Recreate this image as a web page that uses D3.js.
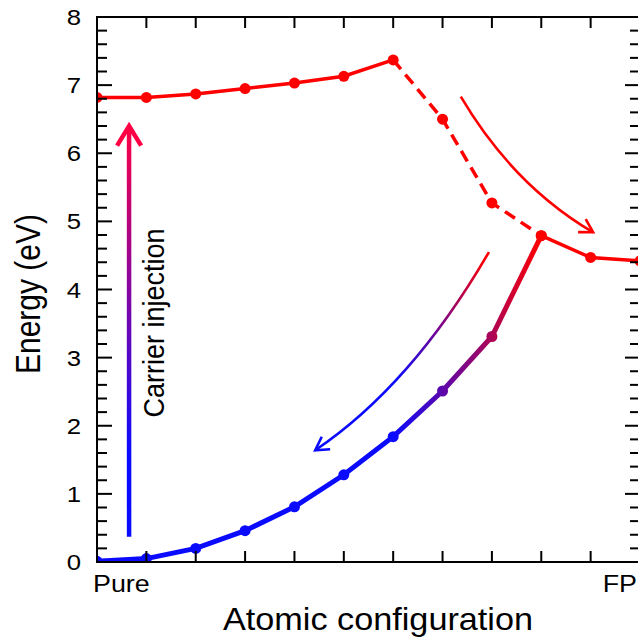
<!DOCTYPE html>
<html>
<head>
<meta charset="utf-8">
<script src="https://cdn.jsdelivr.net/npm/d3@7"></script>
<style>
    body { margin: 0; background: #fff; }
    text { font-family: "Liberation Sans", Arial, sans-serif; fill: #000; }
</style>
</head>
<body>
<script>
// configurations along x (0 = Pure ... 11 = FP)
const configs = d3.range(12);
const excitedEnergy = [6.82, 6.82, 6.87, 6.95, 7.03, 7.13, 7.37, 6.50, 5.27, 4.79, 4.47, 4.42];
const groundEnergy = [0.01, 0.05, 0.20, 0.46, 0.81, 1.28, 1.84, 2.51, 3.31, 4.79];
const dashedRange = [6, 9];
const xTickLabels = [{ i: 0, label: "Pure" }, { i: 11, label: "FP" }];
const yTicks = [0, 1, 2, 3, 4, 5, 6, 7, 8];

// annotation arrows, in data units (config index, eV)
const injectionArrow = { x: 0.65, from: 0.37, to: 6.4 };
const relaxArrow = [[7.37, 6.83], [8.43, 5.53], [10.05, 4.84]];
const decayArrow = [[7.94, 4.55], [6.38, 2.6], [4.42, 1.64]];

const config = {
    width: 638,
    height: 640,
    left: 97,
    right: 640,
    top: 17,
    bottom: 562,
    red: "#ff0000",
    blue: "#0a0aff",
    pink: "#ff0044",
    stretch: 1.12
};

const x = d3.scaleLinear().domain([0, 11]).range([config.left, config.right]);
const y = d3.scaleLinear().domain([0, 8]).range([config.bottom, config.top]);

const svg = d3.select("body").append("svg")
    .attr("width", config.width)
    .attr("height", config.height);

const defs = svg.append("defs");
defs.append("clipPath").attr("id", "plot")
    .append("rect")
    .attr("x", config.left).attr("y", config.top)
    .attr("width", config.right - config.left)
    .attr("height", config.bottom - config.top);

function gradient(id, x1, y1, x2, y2, stops) {
    const g = defs.append("linearGradient").attr("id", id)
        .attr("gradientUnits", "userSpaceOnUse")
        .attr("x1", x1).attr("y1", y1).attr("x2", x2).attr("y2", y2);
    stops.forEach(s => g.append("stop").attr("offset", s[0]).attr("stop-color", s[1]));
}

gradient("groundGrad", x(6), 0, x(9), 0, [[0, config.blue], [1, config.red]]);
gradient("injGrad", 0, y(injectionArrow.from), 0, y(injectionArrow.to),
    [[0, config.blue], [0.2, config.blue], [1, config.pink]]);
gradient("decayGrad", x(decayArrow[0][0]), y(decayArrow[0][1]), x(decayArrow[2][0]), y(decayArrow[2][1]),
    [[0.02, config.red], [0.6, config.blue], [1, config.blue]]);

// ---- data lines ----
const plot = svg.append("g").attr("clip-path", "url(#plot)");
const line = d3.line().x(d => x(d.i)).y(d => y(d.e));

const excited = configs.map(i => ({ i, e: excitedEnergy[i] }));
const ground = groundEnergy.map((e, i) => ({ i, e }));

plot.append("path")
    .attr("d", line(excited.slice(0, dashedRange[0] + 1)))
    .style("fill", "none").style("stroke", config.red).style("stroke-width", 3.5);
plot.append("path")
    .attr("d", line(excited.slice(dashedRange[0], dashedRange[1] + 1)))
    .style("fill", "none").style("stroke", config.red).style("stroke-width", 3.5)
    .style("stroke-dasharray", "12,7");
plot.append("path")
    .attr("d", line(excited.slice(dashedRange[1])))
    .style("fill", "none").style("stroke", config.red).style("stroke-width", 3.5);

plot.append("path")
    .attr("d", line(ground))
    .style("fill", "none").style("stroke", "url(#groundGrad)").style("stroke-width", 5);

plot.selectAll(".ground").data(ground).enter().append("circle")
    .attr("cx", d => x(d.i)).attr("cy", d => y(d.e)).attr("r", 5.5)
    .style("fill", "url(#groundGrad)");

plot.selectAll(".excited").data(excited).enter().append("circle")
    .attr("cx", d => x(d.i)).attr("cy", d => y(d.e)).attr("r", 5.5)
    .style("fill", config.red);

// ---- arrows ----
function head(g, tip, dir, len, ang, color, w) {
    const back = Math.atan2(-dir[1], -dir[0]);
    const p = [-ang, ang].map(a => [tip[0] + len * Math.cos(back + a), tip[1] + len * Math.sin(back + a)]);
    g.append("path")
        .attr("d", `M${p[0][0]},${p[0][1]}L${tip[0]},${tip[1]}L${p[1][0]},${p[1][1]}`)
        .style("fill", "none").style("stroke", color).style("stroke-width", w)
        .style("stroke-linejoin", "miter");
}

function curveArrow(pts, color, headColor, w) {
    const p = pts.map(d => [x(d[0]), y(d[1])]);
    const g = svg.append("g");
    g.append("path")
        .attr("d", `M${p[0][0]},${p[0][1]}Q${p[1][0]},${p[1][1]} ${p[2][0]},${p[2][1]}`)
        .style("fill", "none").style("stroke", color).style("stroke-width", w);
    head(g, p[2], [p[2][0] - p[1][0], p[2][1] - p[1][1]], 15, Math.PI / 6, headColor, w);
}

curveArrow(relaxArrow, config.red, config.red, 2.6);
curveArrow(decayArrow, "url(#decayGrad)", config.blue, 2.6);

const inj = svg.append("g");
inj.append("line")
    .attr("x1", x(injectionArrow.x)).attr("x2", x(injectionArrow.x) + 0.01)
    .attr("y1", y(injectionArrow.from)).attr("y2", y(injectionArrow.to) + 2)
    .style("stroke", "url(#injGrad)").style("stroke-width", 4.5);
head(inj, [x(injectionArrow.x), y(injectionArrow.to)], [0, -1], 23, 0.55, config.pink, 4.5);

// ---- frame & ticks ----
const frame = svg.append("g").style("stroke", "#000");
frame.append("rect")
    .attr("x", config.left).attr("y", config.top)
    .attr("width", config.right - config.left)
    .attr("height", config.bottom - config.top)
    .style("fill", "none").style("stroke-width", 2);

const minor = d3.range(0, 8.01, 0.2).map(v => +v.toFixed(1));
frame.selectAll(".ytick").data(minor).enter().append("line")
    .attr("x1", config.left).attr("x2", d => config.left + (Number.isInteger(d) ? 15 : 10))
    .attr("y1", d => y(d)).attr("y2", d => y(d))
    .style("stroke-width", 2);
frame.selectAll(".ytickr").data(minor).enter().append("line")
    .attr("x1", config.right).attr("x2", d => config.right - (Number.isInteger(d) ? 15 : 10))
    .attr("y1", d => y(d)).attr("y2", d => y(d))
    .style("stroke-width", 2);
frame.selectAll(".xtick").data(configs.slice(1, 11)).enter().append("line")
    .attr("x1", d => x(d)).attr("x2", d => x(d))
    .attr("y1", config.bottom).attr("y2", config.bottom - 11)
    .style("stroke-width", 2);
frame.selectAll(".xtickt").data(configs.slice(1, 11)).enter().append("line")
    .attr("x1", d => x(d)).attr("x2", d => x(d))
    .attr("y1", config.top).attr("y2", config.top + 11)
    .style("stroke-width", 2);

// ---- text ----
svg.selectAll(".ylab").data(yTicks).enter().append("text")
    .attr("transform", d => `translate(${config.left - 16},${y(d) + 8}) scale(${config.stretch},1)`)
    .attr("text-anchor", "end")
    .style("font-size", "23px")
    .text(d => d);

svg.selectAll(".xlab").data(xTickLabels).enter().append("text")
    .attr("transform", d => `translate(${d.i === 0 ? x(d.i) - 4 : x(d.i) - 3},592) scale(${config.stretch},1)`)
    .attr("text-anchor", d => d.i === 0 ? "start" : "end")
    .style("font-size", "24px")
    .text(d => d.label);

svg.append("text")
    .attr("transform", "translate(378,630) scale(1.07,1)")
    .attr("text-anchor", "middle")
    .style("font-size", "32px")
    .text("Atomic configuration");

svg.append("text")
    .attr("transform", "translate(40,294) rotate(-90) scale(1,1.16)")
    .attr("text-anchor", "middle")
    .style("font-size", "30px")
    .text("Energy (eV)");

svg.append("text")
    .attr("transform", "translate(164,323) rotate(-90) scale(1,1.08)")
    .attr("text-anchor", "middle")
    .style("font-size", "27px")
    .text("Carrier injection");
</script>
</body>
</html>
